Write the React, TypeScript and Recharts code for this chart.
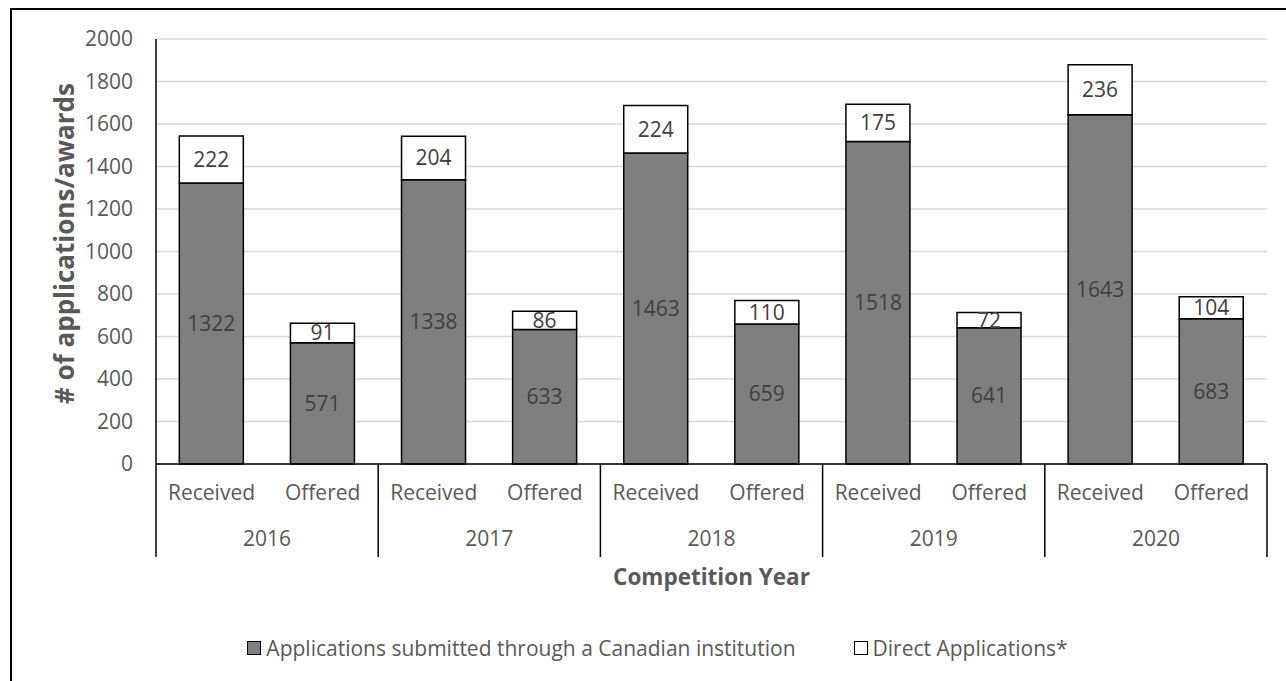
import React from 'react';
import {
  BarChart,
  Bar,
  XAxis,
  YAxis,
  CartesianGrid,
  Legend,
  LabelList,
  Label,
} from 'recharts';

const years = ['2016', '2017', '2018', '2019', '2020'];
const stages = ['Received', 'Offered'];
const institution = [1322, 571, 1338, 633, 1463, 659, 1518, 641, 1643, 683];
const direct = [222, 91, 204, 86, 224, 110, 175, 72, 236, 104];
const yTicks = [0, 200, 400, 600, 800, 1000, 1200, 1400, 1600, 1800, 2000];

const data = institution.map((v, i) => ({
  stage: stages[i % 2],
  year: years[Math.floor(i / 2)],
  institution: v,
  direct: direct[i],
}));

const FONT = '"Open Sans", sans-serif';
const TEXT = '#595959';
const FS = 21;
const WIDTH = 1286;
const HEIGHT = 681;
const MARGIN = { top: 39, right: 19, left: 96, bottom: 21 };
const Y_WIDTH = 60;
const PLOT_W = WIDTH - MARGIN.left - MARGIN.right - Y_WIDTH;
const BAND = PLOT_W / data.length;

function StageTick(props: any) {
  const { x, y, payload, index } = props;
  const last = index === data.length - 1;
  return (
    <g>
      <text
        x={x}
        y={y + 30}
        textAnchor="middle"
        dominantBaseline="middle"
        fill={TEXT}
        fontSize={FS}
        fontFamily={FONT}
      >
        {payload.value}
      </text>
      {index % 2 === 0 && (
        <line x1={x - BAND / 2} x2={x - BAND / 2} y1={y} y2={y + 93} stroke="#000" strokeWidth={1.5} />
      )}
      {last && (
        <line x1={x + BAND / 2} x2={x + BAND / 2} y1={y} y2={y + 93} stroke="#000" strokeWidth={1.5} />
      )}
    </g>
  );
}

function YearTick(props: any) {
  const { x, y, payload, index } = props;
  if (index % 2 !== 0) return <g />;
  return (
    <text
      x={x + BAND / 2}
      y={y + 30}
      textAnchor="middle"
      dominantBaseline="middle"
      fill={TEXT}
      fontSize={FS}
      fontFamily={FONT}
    >
      {payload.value}
    </text>
  );
}

function LegendContent(props: any) {
  const items = props.payload || [];
  return (
    <div
      style={{
        display: 'flex',
        justifyContent: 'center',
        alignItems: 'center',
        height: 24,
        paddingRight: 48,
        fontFamily: FONT,
        fontSize: FS,
        color: TEXT,
        gap: 58,
      }}
    >
      {items.map((entry: any) => (
        <div key={entry.value} style={{ display: 'flex', alignItems: 'center' }}>
          <span
            style={{
              display: 'inline-block',
              width: 12,
              height: 12,
              background: entry.color,
              border: '1.5px solid #000',
              marginRight: 5,
            }}
          />
          <span>{entry.value}</span>
        </div>
      ))}
    </div>
  );
}

export default function App() {
  return (
    <div
      style={{
        position: 'absolute',
        left: 0,
        top: 0,
        width: WIDTH,
        height: HEIGHT,
        overflow: 'hidden',
        background: '#fff',
      }}
    >
      <div
        style={{
          position: 'absolute',
          left: 10,
          top: 8,
          width: 1400,
          height: 800,
          border: '2px solid #000',
        }}
      />
      <div style={{ position: 'absolute', left: 0, top: 0 }}>
        <BarChart width={WIDTH} height={HEIGHT} data={data} margin={MARGIN} barCategoryGap="21%">
          <CartesianGrid vertical={false} stroke="#d9d9d9" strokeWidth={1.5} />
          <XAxis
            dataKey="stage"
            interval={0}
            height={46}
            tickSize={0}
            tickMargin={0}
            tickLine={false}
            axisLine={{ stroke: '#000', strokeWidth: 1.5 }}
            tick={<StageTick />}
          />
          <XAxis
            xAxisId="year"
            dataKey="year"
            interval={0}
            height={126}
            tickSize={0}
            tickMargin={0}
            tickLine={false}
            axisLine={false}
            tick={<YearTick />}
          >
            <Label
              value="Competition Year"
              position="insideTop"
              offset={59}
              fill={TEXT}
              fontSize={22.5}
              fontWeight="bold"
              fontFamily={FONT}
            />
          </XAxis>
          <YAxis
            width={Y_WIDTH}
            domain={[0, 2000]}
            ticks={yTicks}
            interval={0}
            tickSize={0}
            tickMargin={23}
            tickLine={false}
            axisLine={{ stroke: '#000', strokeWidth: 1.5 }}
            tick={{ fill: TEXT, fontSize: FS, fontFamily: FONT }}
          >
            <Label
              value="# of applications/awards"
              position="center"
              angle={-90}
              dx={-61}
              dy={-8}
              fill={TEXT}
              fontSize={26}
              fontWeight="bold"
              fontFamily={FONT}
            />
          </YAxis>
          <Legend verticalAlign="bottom" content={<LegendContent />} />
          <Bar
            dataKey="institution"
            name="Applications submitted through a Canadian institution"
            stackId="a"
            fill="#7f7f7f"
            stroke="#000"
            strokeWidth={1.5}
            isAnimationActive={false}
          >
            <LabelList
              dataKey="institution"
              position="center"
              fill="#404040"
              fontSize={FS}
              fontFamily={FONT}
            />
          </Bar>
          <Bar
            dataKey="direct"
            name="Direct Applications*"
            stackId="a"
            fill="#ffffff"
            stroke="#000"
            strokeWidth={1.5}
            isAnimationActive={false}
          >
            <LabelList
              dataKey="direct"
              position="center"
              fill="#404040"
              fontSize={FS}
              fontFamily={FONT}
            />
          </Bar>
        </BarChart>
      </div>
    </div>
  );
}
